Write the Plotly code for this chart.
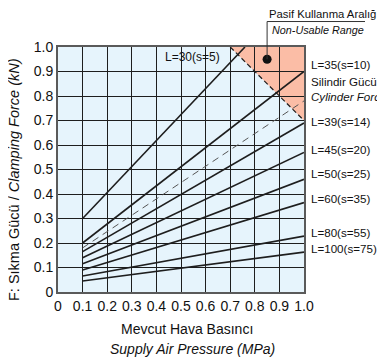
from plotly import graph_objects as go

# supply air pressure (MPa) at start / end of each curve
p_start = 0.1
p_end = [0.76, 1.0, 1.0, 1.0, 1.0, 1.0, 1.0, 1.0, 1.0]
# clamping force (kN)
f_start = [0.30, 0.20, 0.18, 0.165, 0.14, 0.115, 0.09, 0.065, 0.045]
f_end = [1.00, 0.90, 0.78, 0.69, 0.57, 0.46, 0.365, 0.228, 0.163]
curve_names = ["L=30(s=5)", "L=35(s=10)", "Silindir Gücü<br><i>Cylinder Force</i>",
               "L=39(s=14)", "L=45(s=20)", "L=50(s=25)", "L=60(s=35)",
               "L=80(s=55)", "L=100(s=75)"]
label_y = [0.96, 0.927, 0.827, 0.694, 0.58, 0.482, 0.38, 0.241, 0.176]

# non-usable range boundary
limit_p = [0.7, 1.0]
limit_f = [1.0, 0.7]
marker_pt = (0.85, 0.95)

tick_vals = [0, 0.1, 0.2, 0.3, 0.4, 0.5, 0.6, 0.7, 0.8, 0.9, 1.0]
tick_text = ["0", "0.1", "0.2", "0.3", "0.4", "0.5", "0.6", "0.7", "0.8", "0.9", "1.0"]

FONT = "Liberation Sans, Arial, sans-serif"
INK = "#1e1e1e"

fig = go.Figure()

for i, name in enumerate(curve_names):
    dashed = i == 2
    fig.add_trace(go.Scatter(
        x=[p_start, p_end[i]], y=[f_start[i], f_end[i]],
        mode="lines",
        line=dict(color="#555555" if dashed else INK, width=1 if dashed else 1.6,
                  dash="7px,5px" if dashed else "solid"),
        showlegend=False, hoverinfo="skip",
    ))

# boundary of the non-usable range
fig.add_trace(go.Scatter(
    x=limit_p, y=limit_f, mode="lines",
    line=dict(color=INK, width=1.2, dash="5px,3px"),
    showlegend=False, hoverinfo="skip",
))
fig.add_trace(go.Scatter(
    x=[marker_pt[0]], y=[marker_pt[1]], mode="markers",
    marker=dict(color="#111111", size=9),
    showlegend=False, hoverinfo="skip",
))

# pink triangle (drawn under the grid)
fig.add_shape(
    type="path", layer="below",
    path=f"M {limit_p[0]} {limit_f[0]} L {limit_p[1]} {limit_f[0]} L {limit_p[1]} {limit_f[1]} Z",
    fillcolor="#FBBDA6", line=dict(width=0),
)

# leader line to the "non-usable" note (axes span 0..1 so data == paper here)
lead_y = 1.104
fig.add_shape(type="line", xref="paper", yref="paper",
              x0=marker_pt[0], x1=marker_pt[0], y0=marker_pt[1], y1=lead_y,
              line=dict(color="#333333", width=1))
fig.add_shape(type="line", xref="paper", yref="paper",
              x0=marker_pt[0], x1=1.248, y0=lead_y, y1=lead_y,
              line=dict(color="#333333", width=1))
fig.add_annotation(x=marker_pt[0], y=lead_y, xref="paper", yref="paper",
                   text="Pasif Kullanma Aralığı", showarrow=False,
                   xanchor="left", yanchor="bottom", font=dict(size=11.3))
fig.add_annotation(x=marker_pt[0] + 0.01, y=lead_y, xref="paper", yref="paper",
                   text="<i>Non-Usable Range</i>", showarrow=False,
                   xanchor="left", yanchor="top", font=dict(size=10.8))

# curve labels
fig.add_annotation(x=0.425, y=label_y[0], text=curve_names[0], showarrow=False,
                   xanchor="left", yanchor="middle", font=dict(size=12))
for name, ly in zip(curve_names[1:], label_y[1:]):
    fig.add_annotation(x=1.02, y=ly, xref="paper", yref="y", text=name,
                       showarrow=False, xanchor="left", yanchor="middle",
                       align="left", font=dict(size=11.6))

# axis titles
fig.add_annotation(x=-0.179, y=0.461, xref="paper", yref="paper",
                   text="F: Sıkma Gücü / <i>Clamping Force (kN)</i>",
                   textangle=-90, showarrow=False, xanchor="center",
                   yanchor="middle", font=dict(size=14.5))
fig.add_annotation(x=0.523, y=-0.152, xref="paper", yref="paper",
                   text="Mevcut Hava Basıncı", showarrow=False,
                   xanchor="center", yanchor="middle", font=dict(size=14))
fig.add_annotation(x=0.547, y=-0.234, xref="paper", yref="paper",
                   text="<i>Supply Air Pressure (MPa)</i>", showarrow=False,
                   xanchor="center", yanchor="middle", font=dict(size=14))

axis_style = dict(
    range=[0, 1.0], tickvals=tick_vals, ticktext=tick_text,
    showgrid=True, gridcolor=INK, gridwidth=1.3, zeroline=False,
    showline=True, mirror=True, linecolor="#5a5a5a", linewidth=2,
    ticks="", tickfont=dict(size=14, color="#111111"), fixedrange=True,
    automargin=False,
)
fig.update_xaxes(**axis_style)
fig.update_yaxes(**axis_style)

fig.update_layout(
    width=385, height=358,
    margin=dict(l=50, r=89, t=39, b=74),
    plot_bgcolor="#E6F4FC", paper_bgcolor="white",
    font=dict(family=FONT, color="#111111"),
)

fig.write_html("out.html")
